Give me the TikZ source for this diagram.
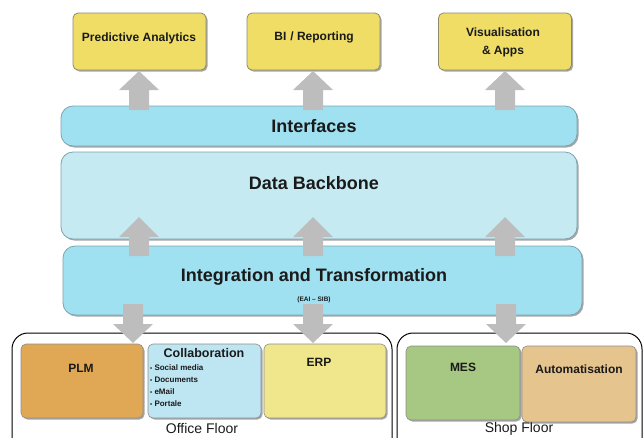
\documentclass[tikz,border=0pt]{standalone}
\usepackage{fontspec}
\setmainfont{Liberation Sans}
\usetikzlibrary{shadows}
\definecolor{topyellow}{HTML}{EFDD66}
\definecolor{topborder}{HTML}{8C8A6A}
\definecolor{bandblue}{HTML}{A0E1F1}
\definecolor{bandlight}{HTML}{C6EAF2}
\definecolor{bandborder}{HTML}{7FA3AD}
\definecolor{plmcol}{HTML}{E0A855}
\definecolor{collcol}{HTML}{BEE6F2}
\definecolor{erpcol}{HTML}{F0E68C}
\definecolor{mescol}{HTML}{A6C882}
\definecolor{autocol}{HTML}{E6C48E}
\definecolor{arrowgray}{HTML}{BDBDBD}
\definecolor{txt}{HTML}{1A1A1A}
\newcommand\blockarr[4]{% x, tip y, head base y, tail y
  \fill[arrowgray] ({#1-10},#4) -- ({#1-10},#3) -- ({#1-20},#3) -- (#1,#2) -- ({#1+20},#3) -- ({#1+10},#3) -- ({#1+10},#4) -- cycle;}
\tikzset{
  shad/.style={drop shadow={shadow xshift=1.5pt, shadow yshift=-1.5pt, opacity=0.35, fill=black}},
  topbox/.style={draw=topborder, line width=0.8pt, fill=topyellow, rounded corners=5pt, shad, minimum width=133pt, minimum height=57pt, inner sep=0pt},
  band/.style={draw=bandborder, line width=0.8pt, rounded corners=12pt, shad, inner sep=0pt},
  sysbox/.style={draw=black!45, line width=0.6pt, rounded corners=5pt, shad, inner sep=0pt},
  floorbox/.style={draw=black, line width=1pt, rounded corners=16pt},
  lbl/.style={text=txt, font=\bfseries\fontsize{12}{14}\selectfont, inner sep=0pt, align=center},
  biglbl/.style={text=txt, font=\bfseries\fontsize{18}{20}\selectfont, inner sep=0pt},
  floorlbl/.style={text=txt, font=\fontsize{14}{16}\selectfont, inner sep=0pt},
}
\begin{document}
\begin{tikzpicture}[x=1pt,y=-1pt]
\useasboundingbox (0,0) rectangle (643,437);
\clip (0,0) rectangle (643,437);
% floors
\draw[floorbox] (12,460) -- (12,333) -- (392,333) -- (392,460);
\draw[floorbox] (397,460) -- (397,333) -- (642,333) -- (642,460);
\node[floorlbl] (officelbl) at (202,428.5) {Office Floor};
\node[floorlbl] (shoplbl) at (519,428.5) {Shop Floor};
% top boxes
\node[topbox] (pred) at (139.5,41.5) {};
\node[topbox] (bi) at (313.5,41.5) {};
\node[topbox] (vis) at (505,41.5) {};
\node[lbl] (predt) at (139,38) {Predictive Analytics};
\node[lbl] (bit) at (314,37) {BI\,\,/ Reporting};
\node[lbl, font=\bfseries\fontsize{12}{18}\selectfont] (vist) at (503,42) {Visualisation\\ \& Apps};
% bands
\node[band, fill=bandblue, minimum width=516pt, minimum height=40pt] (intf) at (319,126) {};
\node[band, fill=bandlight, minimum width=516pt, minimum height=87pt] (dbb) at (319,195.5) {};
\node[band, fill=bandblue, minimum width=519pt, minimum height=69pt] (integ) at (322.5,280.5) {};
\node[biglbl] (intft) at (314,126) {Interfaces};
\node[biglbl] (dbbt) at (314,183) {Data Backbone};
\node[biglbl] (integt) at (314,277) {Integration and Transformation};
\node[text=txt, font=\bfseries\fontsize{6.5}{8}\selectfont, inner sep=0pt] (eai) at (314,300) {(EAI – SIB)};
% arrows
\blockarr{139}{71}{90}{110}
\blockarr{313}{71}{90}{110}
\blockarr{505}{71}{90}{110}
\blockarr{139}{217}{237}{256}
\blockarr{313}{217}{237}{256}
\blockarr{505}{217}{237}{256}
% systems
\node[sysbox, fill=plmcol, minimum width=122pt, minimum height=74pt] (plm) at (82,381) {};
\node[sysbox, fill=collcol, minimum width=113pt, minimum height=74pt] (coll) at (204.5,381) {};
\node[sysbox, fill=erpcol, minimum width=122pt, minimum height=74pt] (erp) at (325,381) {};
\node[sysbox, fill=mescol, minimum width=114pt, minimum height=74pt] (mes) at (463,383) {};
\node[sysbox, fill=autocol, minimum width=114pt, minimum height=76pt] (auto) at (579,384) {};
\blockarr{133}{343}{324}{304}
\blockarr{313}{343}{324}{304}
\blockarr{506}{343}{324}{304}
\node[lbl] (plmt) at (81,368) {PLM};
\node[lbl] (erpt) at (319,362) {ERP};
\node[lbl] (mest) at (463,367) {MES};
\node[lbl] (autot) at (579,369) {Automatisation};
\node[lbl, font=\bfseries\fontsize{12.5}{14}\selectfont] (collt) at (204,353) {Collaboration};
\node[text=txt, font=\bfseries\fontsize{8}{12}\selectfont, inner sep=0pt, align=left, anchor=north west] (collitems) at (150,364.5)
  {{\fontsize{6}{12}\selectfont•} Social media\\ {\fontsize{6}{12}\selectfont•} Documents\\ {\fontsize{6}{12}\selectfont•} eMail\\ {\fontsize{6}{12}\selectfont•} Portale};
\end{tikzpicture}
\end{document}
